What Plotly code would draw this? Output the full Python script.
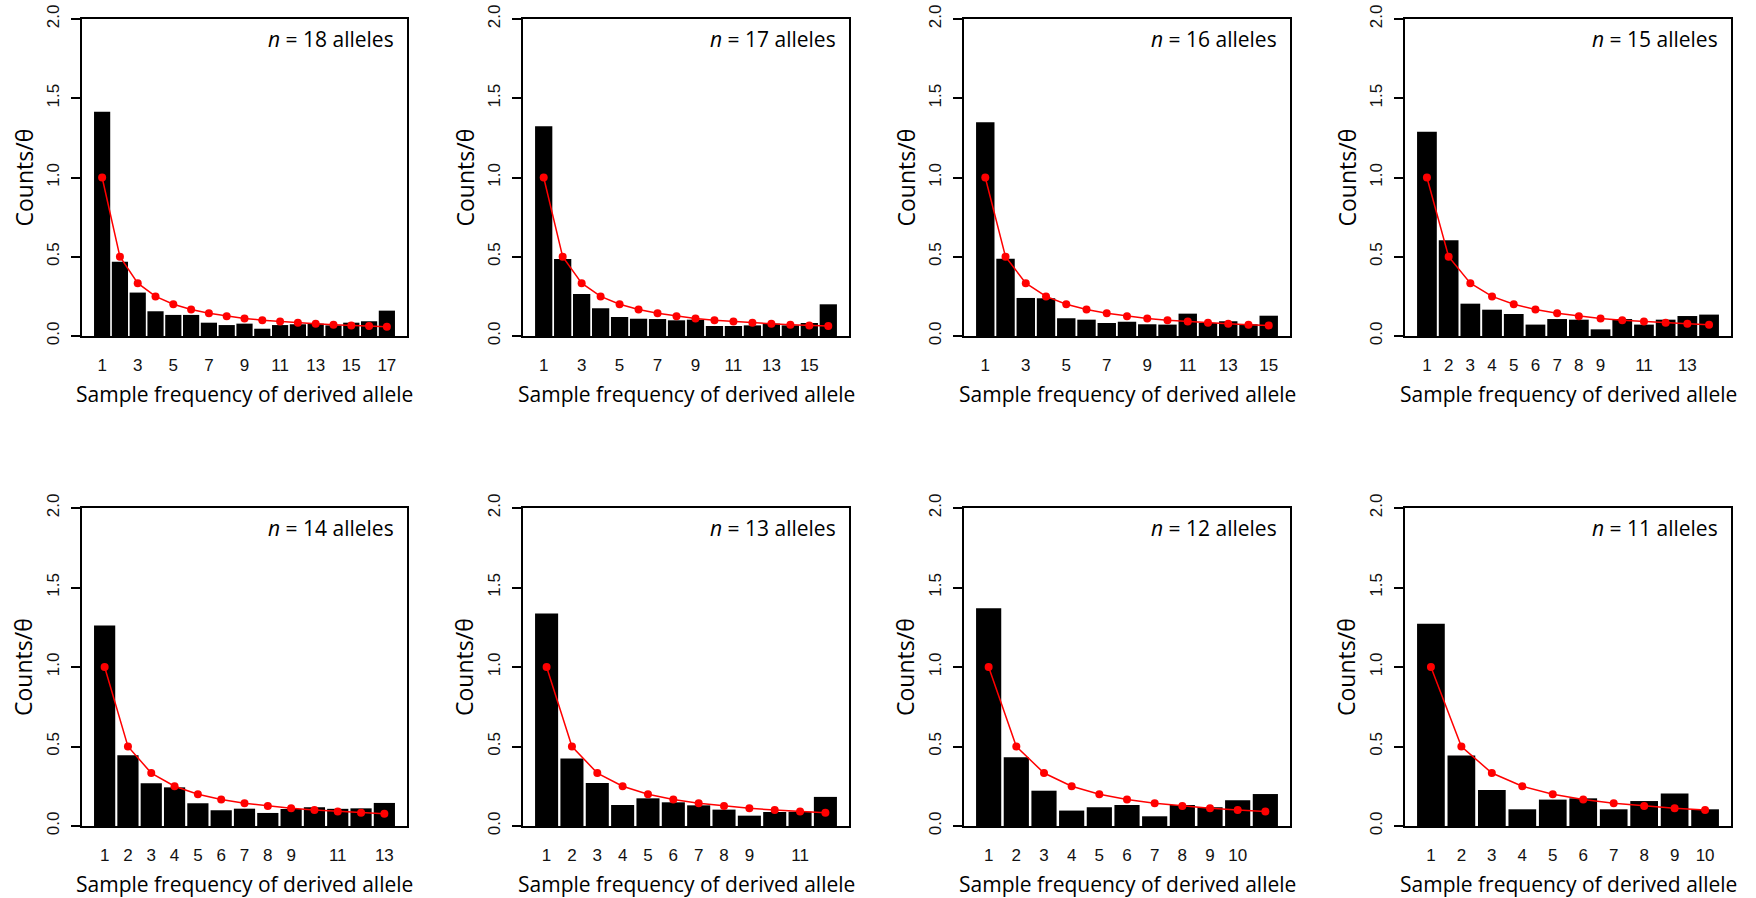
import plotly.graph_objects as go

# ---------------- data ----------------
sample_sizes = [18, 17, 16, 15, 14, 13, 12, 11]

obs_n18 = [1.415, 0.469, 0.274, 0.156, 0.133, 0.133, 0.084, 0.069, 0.078, 0.046,
           0.069, 0.074, 0.078, 0.067, 0.084, 0.093, 0.160]
obs_n17 = [1.324, 0.486, 0.265, 0.175, 0.120, 0.109, 0.107, 0.099, 0.103, 0.063,
           0.063, 0.067, 0.078, 0.067, 0.082, 0.200]
obs_n16 = [1.349, 0.488, 0.240, 0.238, 0.112, 0.103, 0.082, 0.090, 0.074, 0.072,
           0.141, 0.082, 0.093, 0.074, 0.128]
obs_n15 = [1.288, 0.604, 0.204, 0.166, 0.139, 0.072, 0.107, 0.103, 0.042, 0.107,
           0.072, 0.103, 0.126, 0.135]
obs_n14 = [1.261, 0.445, 0.269, 0.243, 0.143, 0.099, 0.109, 0.082, 0.107, 0.118,
           0.108, 0.111, 0.145]
obs_n13 = [1.337, 0.424, 0.271, 0.132, 0.174, 0.149, 0.130, 0.103, 0.065, 0.088,
           0.090, 0.183]
obs_n12 = [1.370, 0.432, 0.222, 0.097, 0.118, 0.132, 0.061, 0.132, 0.118, 0.162,
           0.201]
obs_n11 = [1.272, 0.443, 0.227, 0.105, 0.166, 0.174, 0.105, 0.157, 0.204, 0.105]

observed = [obs_n18, obs_n17, obs_n16, obs_n15, obs_n14, obs_n13, obs_n12, obs_n11]

# expected (red points), frequency 1..17
expected = [1.0, 0.5, 0.333, 0.25, 0.2, 0.167, 0.143, 0.125, 0.111, 0.1,
            0.091, 0.083, 0.077, 0.071, 0.067, 0.0625, 0.059]

xtick_n18 = [1, 3, 5, 7, 9, 11, 13, 15, 17]
xtick_n17 = [1, 3, 5, 7, 9, 11, 13, 15]
xtick_n16 = [1, 3, 5, 7, 9, 11, 13, 15]
xtick_n15 = [1, 2, 3, 4, 5, 6, 7, 8, 9, 11, 13]
xtick_n14 = [1, 2, 3, 4, 5, 6, 7, 8, 9, 11, 13]
xtick_n13 = [1, 2, 3, 4, 5, 6, 7, 8, 9, 11]
xtick_n12 = [1, 2, 3, 4, 5, 6, 7, 8, 9, 10]
xtick_n11 = [1, 2, 3, 4, 5, 6, 7, 8, 9, 10]
xticks = [xtick_n18, xtick_n17, xtick_n16, xtick_n15,
          xtick_n14, xtick_n13, xtick_n12, xtick_n11]

yticks = [0.0, 0.5, 1.0, 1.5, 2.0]
ytick_labels = ["0.0", "0.5", "1.0", "1.5", "2.0"]

x_title = "Sample frequency of derived allele"
y_title = "Counts/θ"

# ---------------- layout geometry (pixels) ----------------
W, H = 1756, 898
col_px = [(82, 407), (523, 849), (964, 1290), (1405, 1731)]
row_px = [(19, 336), (508, 826)]

TICK_FONT = dict(family="Liberation Sans, Arial, sans-serif", size=17, color="#111111")
LABEL_FONT = dict(family="Open Sans, Noto Sans, sans-serif", size=21, color="#000000")
YTITLE_FONT = dict(family="Open Sans, Noto Sans, sans-serif", size=23, color="#000000")

fig = go.Figure()
layout_axes = {}
annotations = []

for k, n in enumerate(sample_sizes):
    r, c = divmod(k, 4)
    x0, x1 = col_px[c]
    y0, y1 = row_px[r]
    idx = k + 1
    xa = "x" if idx == 1 else f"x{idx}"
    ya = "y" if idx == 1 else f"y{idx}"
    xkey = "xaxis" if idx == 1 else f"xaxis{idx}"
    ykey = "yaxis" if idx == 1 else f"yaxis{idx}"

    obs = observed[k]
    m = len(obs)
    freqs = list(range(1, m + 1))

    fig.add_trace(go.Bar(x=freqs, y=obs, xaxis=xa, yaxis=ya,
                         marker=dict(color="black", line=dict(width=0)),
                         showlegend=False, hoverinfo="x+y"))
    fig.add_trace(go.Scatter(x=freqs, y=expected[:m], xaxis=xa, yaxis=ya,
                             mode="lines+markers",
                             line=dict(color="#ff0000", width=1.5),
                             marker=dict(color="#ff0000", size=8),
                             showlegend=False, hoverinfo="x+y"))

    # R barplot-like x extent (space 0.1, 4% expansion)
    pad = (0.5 + 0.04 * (m * 1.1 - 0.1)) / 1.1
    layout_axes[xkey] = dict(
        domain=[x0 / W, x1 / W], anchor=ya,
        range=[1 - pad, m + pad], automargin=False,
        tickmode="array", tickvals=xticks[k], ticktext=[str(v) for v in xticks[k]],
        ticks="", showgrid=False, zeroline=False,
        showline=True, linecolor="black", linewidth=2, mirror=True,
        tickfont=TICK_FONT, ticklabelstandoff=13,
    )
    layout_axes[ykey] = dict(
        domain=[1 - y1 / H, 1 - y0 / H], anchor=xa,
        range=[0, 2], automargin=False,
        tickmode="array", tickvals=yticks, ticktext=ytick_labels,
        tickangle=-90,
        ticks="outside", ticklen=9, tickwidth=1.5, tickcolor="black",
        showgrid=False, zeroline=False,
        showline=True, linecolor="black", linewidth=2, mirror=True,
        tickfont=TICK_FONT, ticklabelstandoff=5,
    )

    # panel label
    annotations.append(dict(
        xref="paper", yref="paper",
        x=(x1 - 11) / W, y=1 - (y0 + 20) / H,
        xanchor="right", yanchor="middle",
        text=f"<i>n</i> = {n} alleles", showarrow=False, font=LABEL_FONT))
    # axis titles
    annotations.append(dict(
        xref="paper", yref="paper",
        x=(x0 + x1) / 2 / W, y=1 - (y1 + 58) / H,
        xanchor="center", yanchor="middle",
        text=x_title, showarrow=False, font=LABEL_FONT))
    annotations.append(dict(
        xref="paper", yref="paper",
        x=(x0 - 59) / W, y=1 - (y0 + y1) / 2 / H,
        xanchor="center", yanchor="middle", textangle=-90,
        text=y_title, showarrow=False, font=YTITLE_FONT))

fig.update_layout(
    width=W, height=H,
    margin=dict(l=0, r=0, t=0, b=0),
    paper_bgcolor="white", plot_bgcolor="white",
    bargap=0.09,
    annotations=annotations,
    **layout_axes,
)

fig.write_html("out.html",
               config={"displayModeBar": False},
               post_script="document.body.style.margin='0';document.body.style.overflow='hidden';")
